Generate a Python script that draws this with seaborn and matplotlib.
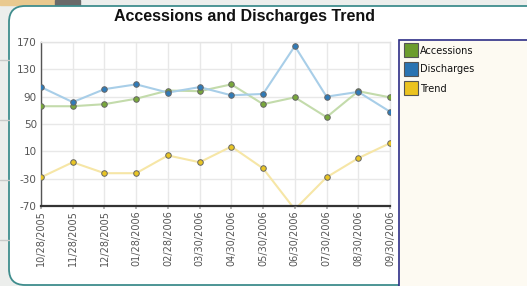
import matplotlib

matplotlib.use("Agg")
import matplotlib.pyplot as plt
from matplotlib.patches import FancyBboxPatch, Rectangle
import numpy as np
import pandas as pd
import seaborn as sns

# values
dates = ["10/28/2005", "11/28/2005", "12/28/2005", "01/28/2006", "02/28/2006", "03/30/2006",
         "04/30/2006", "05/30/2006", "06/30/2006", "07/30/2006", "08/30/2006", "09/30/2006"]
accessions = [76, 76, 79, 87, 99, 98, 108, 79, 89, 60, 98, 89]
discharges = [104, 82, 101, 108, 96, 104, 92, 94, 164, 90, 97, 68]
trend = [-28, -6, -22, -22, 4, -6, 17, -15, -75, -28, 0, 22]
y_ticks = [-70, -30, 10, 50, 90, 130, 170]

series = {"Accessions": accessions, "Discharges": discharges, "Trend": trend}
line_colors = {"Accessions": "#c3dbab", "Discharges": "#a8cee8", "Trend": "#f6e6a6"}
marker_colors = {"Accessions": "#79a83a", "Discharges": "#2f7bb9", "Trend": "#e9c523"}
swatch_colors = {"Accessions": "#6c9c2c", "Discharges": "#2a74b2", "Trend": "#ebc320"}

W, H = 527, 286
sns.set_theme(style="whitegrid")
plt.rcParams["font.family"] = ["DejaVu Sans"]

fig = plt.figure(figsize=(W / 100, H / 100), dpi=100)
fig.patch.set_facecolor("#eceeec")

# background decoration in pixel coordinates
bg = fig.add_axes([0, 0, 1, 1], zorder=-5)
bg.set_xlim(0, W)
bg.set_ylim(H, 0)
bg.axis("off")
for yy in [60, 120, 180, 240]:
    bg.plot([0, 9], [yy, yy], color="#c9cbc9", lw=1)
bg.add_patch(Rectangle((0, 0), 55, 5, color="#e9c98f"))
bg.add_patch(Rectangle((55, 0), 25, 5, color="#6a6a6a"))
bg.add_patch(FancyBboxPatch((9, 6), 540, 279, boxstyle="round,pad=0,rounding_size=16",
                            facecolor="white", edgecolor="#3f8d8d", lw=1.3))
bg.add_patch(Rectangle((399, 40), 140, 260, facecolor="#fdfaf2", edgecolor="#2e2e86", lw=1.2))
for i, name in enumerate(series):
    y0 = 43 + i * 19
    bg.add_patch(Rectangle((404, y0), 14, 14, facecolor=swatch_colors[name],
                           edgecolor="#555555", lw=0.8))
    bg.text(420, y0 + 7.5, name, fontsize=7, color="#111111", va="center", ha="left")

bg.text(245, 17, "Accessions and Discharges Trend", fontsize=11.5, fontweight="semibold",
        family=["Liberation Sans", "DejaVu Sans"], ha="center", va="center", color="#111111")

# main chart
ax = fig.add_axes([41 / W, (H - 206) / H, 349 / W, 164 / H])
ax.set_facecolor("white")
x = np.arange(len(dates))
for name, vals in series.items():
    df = pd.DataFrame({"x": x, "v": vals})
    sns.lineplot(data=df, x="x", y="v", ax=ax, color=line_colors[name], lw=1.5, zorder=2)
    sns.scatterplot(data=df, x="x", y="v", ax=ax, color=marker_colors[name], s=16,
                    edgecolor="#666666", linewidth=0.7, zorder=3)

ax.set_xlim(0, len(dates) - 1)
ax.set_ylim(-70, 170)
ax.set_xticks(x)
ax.set_xticklabels(dates, rotation=90, fontsize=7, color="#555555")
ax.set_yticks(y_ticks)
ax.set_yticklabels([str(t) for t in y_ticks], fontsize=7.5, color="#555555")
ax.set_xlabel("")
ax.set_ylabel("")
ax.grid(True, color="#e8e8e8", lw=1)
ax.tick_params(axis="x", length=2, pad=1, color="#aaaaaa", bottom=True)
ax.tick_params(axis="y", length=0, pad=3)
for side in ["top", "right"]:
    ax.spines[side].set_color("#e4e4e4")
    ax.spines[side].set_linewidth(1)
ax.spines["left"].set_color("#555555")
ax.spines["left"].set_linewidth(1)
ax.spines["bottom"].set_color("#333333")
ax.spines["bottom"].set_linewidth(1.6)

fig.savefig("out.png", dpi=100)
